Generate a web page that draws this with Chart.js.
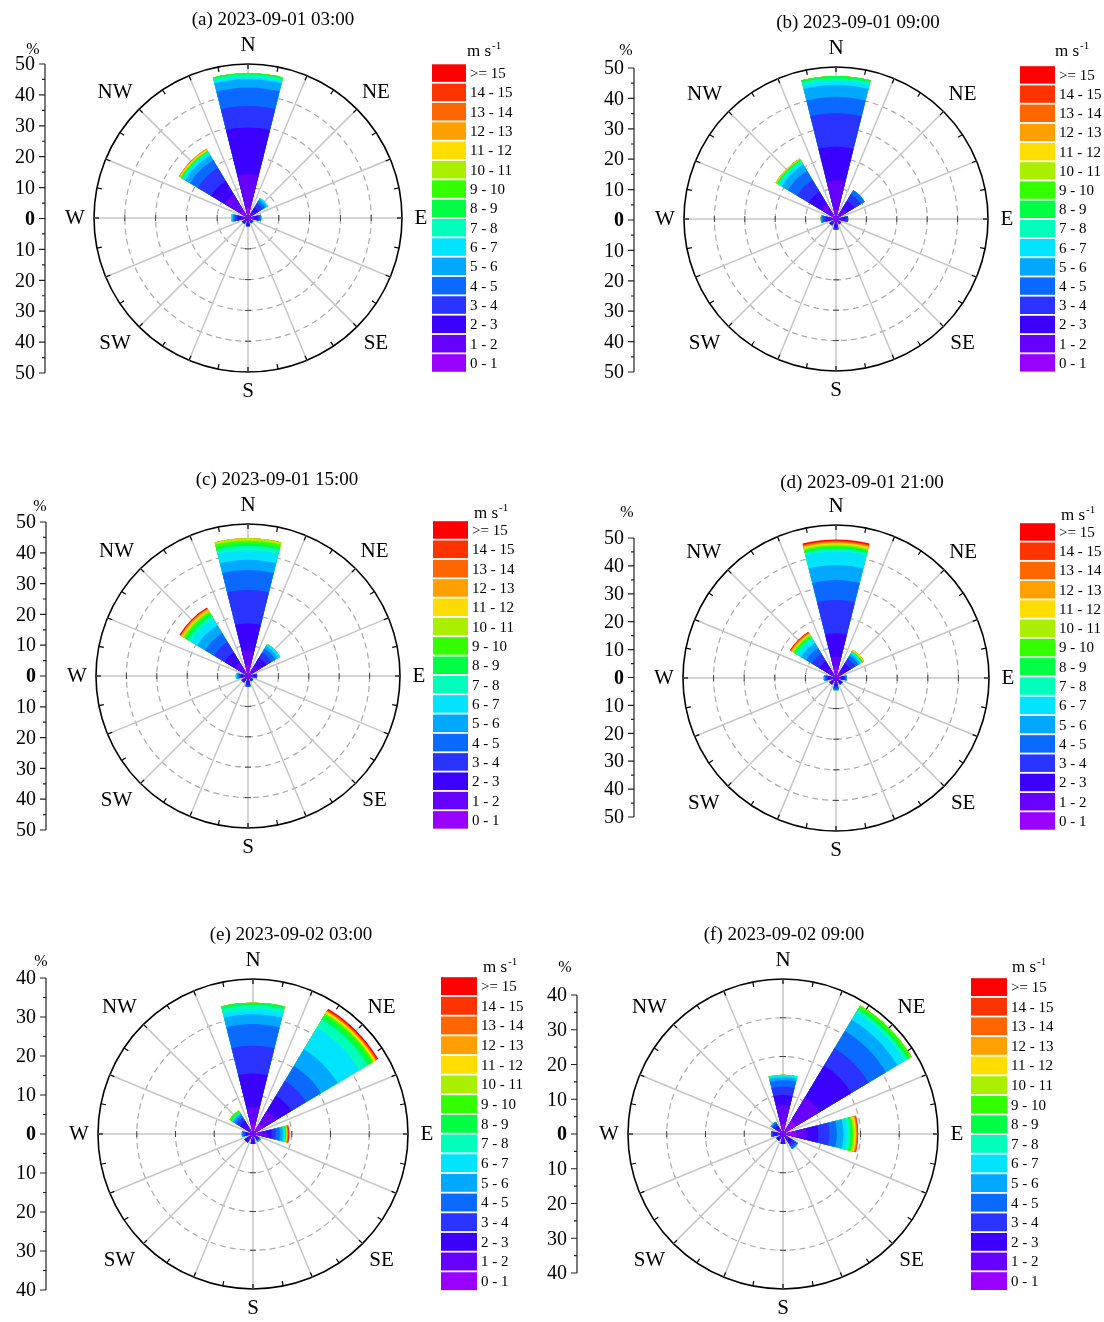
<!DOCTYPE html>
<html>
<head>
<meta charset="utf-8">
<script src="https://cdn.jsdelivr.net/npm/chart.js@4.4.0/dist/chart.umd.min.js"></script>
<style>
  html, body { margin: 0; padding: 0; background: #fff; }
  #page { position: relative; width: 1104px; height: 1322px; }
  #page canvas { position: absolute; left: 0; top: 0; }
</style>
</head>
<body>
<div id="page">
  <canvas id="roseA" width="1104" height="1322"></canvas>
  <canvas id="roseB" width="1104" height="1322"></canvas>
  <canvas id="roseC" width="1104" height="1322"></canvas>
  <canvas id="roseD" width="1104" height="1322"></canvas>
  <canvas id="roseE" width="1104" height="1322"></canvas>
  <canvas id="roseF" width="1104" height="1322"></canvas>
</div>
<script>
const directions = ["N", "NE", "E", "SE", "S", "SW", "W", "NW"];
const speedBins = ["0 - 1", "1 - 2", "2 - 3", "3 - 4", "4 - 5", "5 - 6", "6 - 7", "7 - 8",
  "8 - 9", "9 - 10", "10 - 11", "11 - 12", "12 - 13", "13 - 14", "14 - 15", ">= 15"];
const pctTicks50 = ["50", "40", "30", "20", "10", "0", "10", "20", "30", "40", "50"];
const pctTicks40 = ["40", "30", "20", "10", "0", "10", "20", "30", "40"];

// frequency (%) per direction (rows N..NW) and speed bin (0-1 .. >=15)
const freqA = [
  [3.4, 10.8, 15.2, 7.0, 6.0, 2.7, 0.7, 0.7, 0.5],
  [1.0, 1.5, 1.5, 1.5, 1.0, 0.6, 0.4],
  [1.0, 1.2, 1.0, 0.6, 0.3, 0.2],
  [0.8, 0.7, 0.5],
  [0.8, 0.9, 1.0],
  [0.8, 0.8, 0.6],
  [1.0, 1.2, 1.3, 0.8, 0.5, 0.3, 0.3],
  [3.0, 6.0, 5.0, 5.0, 3.0, 1.8, 0.8, 0.4, 0.3, 0.2, 0.2, 0.2, 0.3]
];
const freqB = [
  [3.0, 9.8, 11.0, 11.0, 5.4, 3.9, 1.4, 0.8, 0.7],
  [1.5, 2.5, 3.0, 2.5, 1.5],
  [1.0, 1.2, 1.0, 0.8],
  [0.8, 0.7, 0.5],
  [0.8, 1.0, 1.0, 0.7],
  [0.8, 0.9, 0.8],
  [1.0, 1.2, 1.2, 0.8, 0.5, 0.3],
  [2.0, 4.0, 4.5, 4.5, 3.5, 2.3, 1.0, 0.5, 0.3, 0.2, 0.2, 0.2]
];
const freqC = [
  [3.5, 5.0, 8.8, 11.0, 6.6, 3.3, 3.2, 1.4, 0.8, 0.9, 0.8],
  [1.5, 2.5, 3.0, 2.0, 1.5, 1.0, 0.8],
  [0.8, 1.0, 0.7, 0.5],
  [0.7, 0.7, 0.6],
  [0.8, 1.0, 1.0, 0.7],
  [0.8, 0.9, 0.8],
  [0.8, 0.8, 0.8, 0.6, 0.4, 0.3, 0.2, 0.1],
  [2.0, 3.0, 4.0, 4.0, 3.5, 3.0, 2.5, 1.2, 0.8, 0.6, 0.4, 0.4, 0.3, 0.2, 0.1, 0.3]
];
const freqD = [
  [3.7, 3.3, 7.6, 10.9, 6.5, 4.9, 4.4, 0.9, 0.6, 0.5, 0.4, 0.4, 0.3, 0.3, 0.2, 0.4],
  [1.4, 1.8, 2.3, 1.8, 1.2, 0.7, 0.4, 0.3, 0.2, 0.1, 0.2, 0.3],
  [0.8, 1.0, 0.8, 0.5, 0.4],
  [0.8, 0.9, 0.8],
  [0.8, 1.0, 1.0, 0.6, 0.4, 0.2],
  [0.8, 0.9, 0.8],
  [0.8, 1.0, 0.9, 0.6, 0.4, 0.3],
  [1.4, 2.3, 2.7, 2.8, 2.2, 1.9, 1.3, 0.8, 0.4, 0.4, 0.4, 0.2, 0.3, 0.2, 0.1, 0.2]
];
const freqE = [
  [2.7, 4.3, 8.6, 7.2, 5.6, 2.5, 1.3, 1.1, 0.6],
  [3.0, 4.0, 4.5, 4.5, 4.5, 5.0, 6.5, 2.5, 1.1, 0.6, 0.3, 0.3, 0.2, 0.2, 0.2, 0.3],
  [1.5, 2.0, 1.3, 1.1, 1.1, 0.7, 0.4, 0.2, 0.2, 0.1, 0.1, 0.1, 0.1, 0.2, 0.1, 0.2],
  [0.6, 0.6, 0.5, 0.3, 0.2, 0.2],
  [0.8, 0.9, 0.8],
  [0.8, 0.9, 0.9],
  [0.7, 0.7, 0.6, 0.4, 0.3, 0.2],
  [1.0, 1.5, 1.4, 1.0, 0.8, 0.4, 0.2, 0.2, 0.2, 0.4]
];
const freqF = [
  [2.6, 4.9, 2.6, 2.1, 1.7, 0.7, 0.4, 0.3],
  [4.0, 7.0, 9.6, 5.2, 5.2, 3.4, 2.2, 0.8, 0.6, 0.7],
  [3.5, 2.6, 3.0, 2.9, 1.9, 1.7, 1.0, 0.7, 0.5, 0.3, 0.4, 0.3, 0.2, 0.2, 0.2],
  [0.8, 1.0, 1.1, 0.9, 0.7],
  [0.8, 0.9, 0.8],
  [0.7, 0.7, 0.6],
  [0.8, 0.9, 0.8, 0.5],
  [0.8, 0.9, 0.8, 0.6, 0.4, 0.2]
];

const binColors = ["#9900ff", "#6600ff", "#3c00ff", "#2a33ff", "#0a6aff", "#00a8ff", "#00e4ff", "#00ffbb",
  "#00ff44", "#33ff00", "#aaee00", "#ffdd00", "#ff9f00", "#ff6600", "#ff3300", "#ff0000"];

const panels = [
  { id: "roseA", title: "(a) 2023-09-01 03:00", freq: freqA, max: 50, ticks: pctTicks50,
    cx: 248, cy: 218, R: 154, axis: { x: 45, top: 64, bottom: 373 }, pct: [33, 50],
    legend: { x: 432, top: 64.3, pitch: 19.33, bw: 34, tx: 467, ty: 52 }, head: [273, 18] },
  { id: "roseB", title: "(b) 2023-09-01 09:00", freq: freqB, max: 50, ticks: pctTicks50,
    cx: 836, cy: 219, R: 152, axis: { x: 634, top: 68, bottom: 372 }, pct: [626, 51],
    legend: { x: 1020, top: 66.2, pitch: 19.2, bw: 35, tx: 1055, ty: 52 }, head: [858, 21] },
  { id: "roseC", title: "(c) 2023-09-01 15:00", freq: freqC, max: 50, ticks: pctTicks50,
    cx: 248, cy: 676, R: 152, axis: { x: 46, top: 522, bottom: 830 }, pct: [40, 507],
    legend: { x: 433, top: 521.2, pitch: 19.33, bw: 35, tx: 474, ty: 514 }, head: [277, 478] },
  { id: "roseD", title: "(d) 2023-09-01 21:00", freq: freqD, max: 50, ticks: pctTicks50,
    cx: 836, cy: 678, R: 153, axis: { x: 634, top: 538, bottom: 817 }, pct: [627, 513],
    legend: { x: 1020, top: 523.2, pitch: 19.27, bw: 35, tx: 1061, ty: 516 }, head: [862, 481] },
  { id: "roseE", title: "(e) 2023-09-02 03:00", freq: freqE, max: 40, ticks: pctTicks40,
    cx: 253, cy: 1134, R: 155, axis: { x: 46, top: 978, bottom: 1290 }, pct: [41, 962],
    legend: { x: 441, top: 977.2, pitch: 19.67, bw: 36, tx: 483, ty: 968 }, head: [291, 933] },
  { id: "roseF", title: "(f) 2023-09-02 09:00", freq: freqF, max: 40, ticks: pctTicks40,
    cx: 783, cy: 1134, R: 155, axis: { x: 577, top: 995, bottom: 1273 }, pct: [565, 968],
    legend: { x: 971, top: 978.2, pitch: 19.6, bw: 36, tx: 1012, ty: 968 }, head: [784, 933] }
];

const SERIF = "'Liberation Serif', 'Times New Roman', serif";
const WEDGE = 28;            // degrees covered by each direction
const GAP = 45 - WEDGE;
// arcs go round from north: half N wedge, gap, NE, gap, ... NW, gap, other half of N
const sectorAngles = [WEDGE / 2];
for (let i = 1; i < 8; i++) sectorAngles.push(GAP, WEDGE);
sectorAngles.push(GAP, WEDGE / 2);

function sectorData(freq, upto) {
  const cum = freq.map(row => row.slice(0, upto + 1).reduce((s, v) => s + v, 0));
  const out = [];
  cum.forEach(v => out.push(v, 0));
  out.push(cum[0]);
  return out;
}

function makeDecor(p) {
  return {
    id: "roseDecor",
    beforeDatasetsDraw(chart) {
      const r = chart.scales.r, ctx = chart.ctx;
      ctx.save();
      ctx.strokeStyle = "#444";
      ctx.lineWidth = 1;
      for (let v = 10; v < p.max; v += 10) {
        const d = r.getDistanceFromCenterForValue(v);
        [[0, -1], [1, 0], [0, 1], [-1, 0]].forEach(([ux, uy]) => {
          const x = r.xCenter + ux * d, y = r.yCenter + uy * d;
          ctx.beginPath();
          ctx.moveTo(x - uy * 3, y + ux * 3);
          ctx.lineTo(x + uy * 3, y - ux * 3);
          ctx.stroke();
        });
      }
      ctx.restore();
    },
    afterDraw(chart) {
      const r = chart.scales.r, ctx = chart.ctx;
      const R = r.drawingArea, cx = r.xCenter, cy = r.yCenter;
      ctx.save();

      // small ticks round the rim
      ctx.strokeStyle = "#000";
      ctx.lineWidth = 1.2;
      for (let k = 0; k < 32; k++) {
        const a = k * Math.PI / 16;
        const s = Math.sin(a), c = -Math.cos(a);
        ctx.beginPath();
        ctx.moveTo(cx + s * R, cy + c * R);
        ctx.lineTo(cx + s * (R - 5), cy + c * (R - 5));
        ctx.stroke();
      }

      // compass names; the corner ones sit a bit further out sideways
      ctx.fillStyle = "#000";
      ctx.font = "21px " + SERIF;
      ctx.textAlign = "center";
      ctx.textBaseline = "middle";
      directions.forEach((d, i) => {
        const a = i * Math.PI / 4;
        const sx = Math.sin(a), sy = -Math.cos(a);
        let x, y;
        if (i % 2) {
          x = cx + sx * R + Math.sign(sx) * (sx < 0 ? 24 : 19);
          y = cy + sy * R + Math.sign(sy) * 17;
        } else {
          x = cx + sx * (R + 19);
          y = cy + sy * (R + 19);
        }
        ctx.fillText(d, x, y);
      });

      // percentage axis on the left
      const ax = p.axis;
      const mid = (ax.top + ax.bottom) / 2;
      const yOf = v => mid - v * (ax.bottom - ax.top) / (2 * p.max);
      ctx.strokeStyle = "#222";
      ctx.lineWidth = 1.2;
      ctx.beginPath();
      ctx.moveTo(ax.x, ax.top);
      ctx.lineTo(ax.x, ax.bottom);
      for (let v = -p.max; v <= p.max; v += 5) {
        const y = yOf(v);
        ctx.moveTo(ax.x, y);
        ctx.lineTo(ax.x - (v % 10 === 0 ? 6 : 3), y);
      }
      ctx.stroke();
      ctx.textAlign = "right";
      p.ticks.forEach((t, i) => {
        ctx.font = (t === "0" ? "bold " : "") + "20px " + SERIF;
        ctx.fillText(t, ax.x - 10, yOf(p.max - i * 10) + 1);
      });
      ctx.textAlign = "center";
      ctx.font = "16px " + SERIF;
      ctx.fillText("%", p.pct[0], p.pct[1]);

      // speed legend
      const lg = p.legend;
      const bh = lg.pitch - 1.8;
      ctx.font = "15px " + SERIF;
      ctx.textAlign = "left";
      speedBins.forEach((lab, i) => {
        const y = lg.top + (speedBins.length - 1 - i) * lg.pitch;
        ctx.fillStyle = binColors[i];
        ctx.fillRect(lg.x, y, lg.bw, bh);
        ctx.fillStyle = "#000";
        ctx.fillText(lab, lg.x + lg.bw + 4, y + bh / 2 + 1);
      });
      ctx.font = "17px " + SERIF;
      ctx.fillText("m s", lg.tx, lg.ty);
      const w = ctx.measureText("m s").width;
      ctx.font = "11px " + SERIF;
      ctx.fillText("-1", lg.tx + w + 1, lg.ty - 6);

      // panel heading
      ctx.textAlign = "center";
      ctx.font = "19px " + SERIF;
      ctx.fillText(p.title, p.head[0], p.head[1] + 2);
      ctx.restore();
    }
  };
}

panels.forEach(function (p) {
  const canvas = document.getElementById(p.id);
  const ctx = canvas.getContext("2d");
  const datasets = speedBins.map((lab, k) => ({
    label: lab,
    data: sectorData(p.freq, k),
    backgroundColor: binColors[k],
    borderWidth: 0,
    angle: c => sectorAngles[c.dataIndex]
  }));
  new Chart(ctx, {
    type: "polarArea",
    data: {
      labels: ["N", "NNE", "NE", "ENE", "E", "ESE", "SE", "SSE", "S", "SSW", "SW", "WSW", "W", "WNW", "NW", "NNW"],
      datasets: datasets
    },
    options: {
      responsive: false,
      animation: false,
      layout: {
        padding: {
          left: p.cx - p.R,
          top: p.cy - p.R,
          right: 1104 - (p.cx + p.R),
          bottom: 1322 - (p.cy + p.R)
        }
      },
      scales: {
        r: {
          min: 0,
          max: p.max,
          startAngle: 0,
          ticks: { display: false, stepSize: 10 },
          pointLabels: { display: false },
          grid: {
            circular: true,
            color: c => c.tick && c.tick.value === p.max ? "#000" : "#ababab",
            lineWidth: c => c.tick && c.tick.value === p.max ? 1.6 : 1.2
          },
          border: { dash: c => c.tick && c.tick.value === p.max ? [] : [6, 4] },
          angleLines: { display: true, color: "#c6c6c6", lineWidth: 1.5 }
        }
      },
      plugins: {
        legend: { display: false },
        tooltip: { enabled: false }
      }
    },
    plugins: [makeDecor(p)]
  });
});
</script>
</body>
</html>
